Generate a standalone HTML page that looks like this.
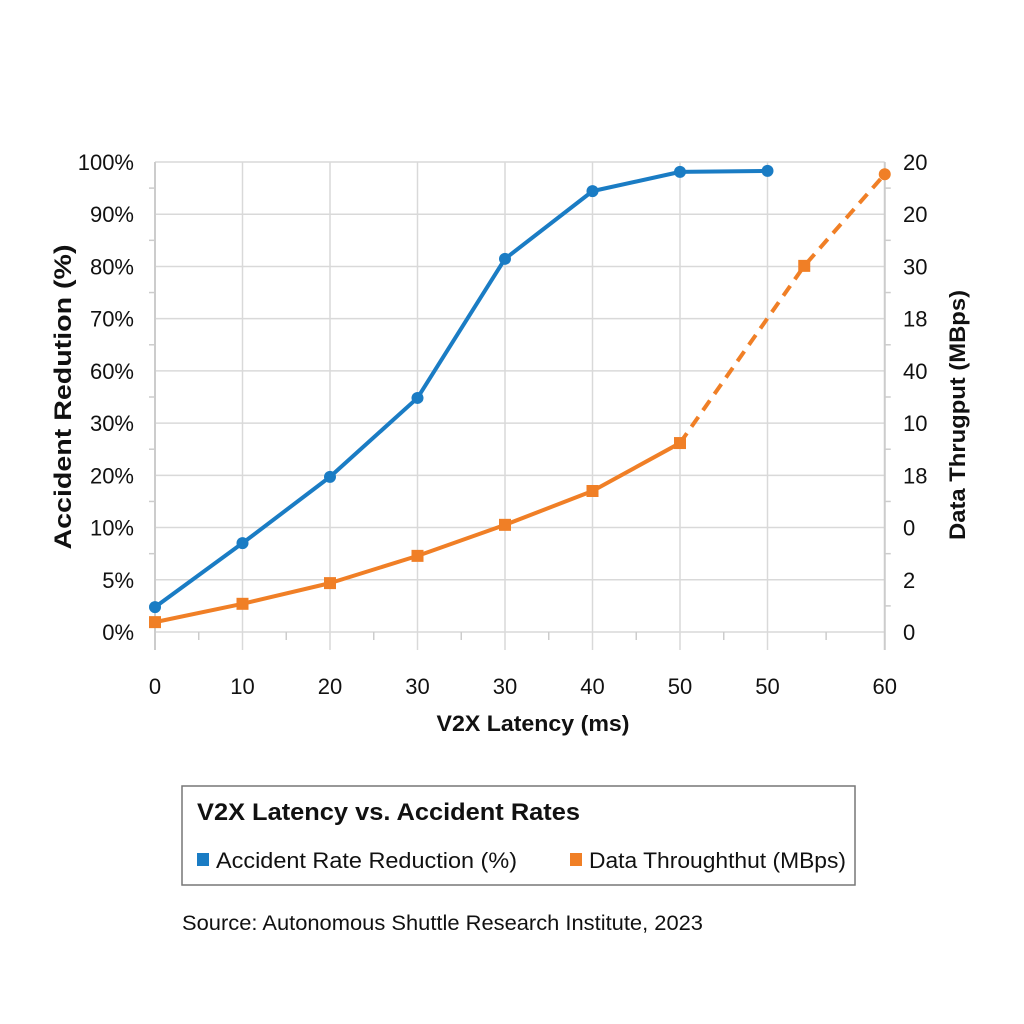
<!DOCTYPE html>
<html><head><meta charset="utf-8">
<style>
html,body{margin:0;padding:0;background:#fff;width:1024px;height:1024px;overflow:hidden}
svg{display:block;font-family:"Liberation Sans",sans-serif}
</style></head>
<body>
<svg id="chart" width="1024" height="1024" viewBox="0 0 1024 1024" xmlns="http://www.w3.org/2000/svg">
<rect x="0" y="0" width="1024" height="1024" fill="#fff"/>
<g id="grid"></g>
<g id="axes"></g>
<g id="series"></g>
<text x="533" y="731" font-size="22" font-weight="bold" text-anchor="middle" fill="#111" textLength="193" lengthAdjust="spacingAndGlyphs">V2X Latency (ms)</text>
<text transform="translate(71,397) rotate(-90)" font-size="24" font-weight="bold" text-anchor="middle" fill="#111" textLength="305" lengthAdjust="spacingAndGlyphs">Accident Redution (%)</text>
<text transform="translate(965,415) rotate(-90)" font-size="22" font-weight="bold" text-anchor="middle" fill="#111" textLength="250" lengthAdjust="spacingAndGlyphs">Data Thrugput (MBps)</text>
<g>
<rect x="182" y="786" width="673" height="99" fill="#fff" stroke="#777" stroke-width="1.5"/>
<text x="197" y="820" font-size="24" font-weight="bold" fill="#111" textLength="383" lengthAdjust="spacingAndGlyphs">V2X Latency vs. Accident Rates</text>
<rect x="197" y="853" width="12" height="13" fill="#1a7cc4"/>
<text x="216" y="868" font-size="22" fill="#111" textLength="301" lengthAdjust="spacingAndGlyphs">Accident Rate Reduction (%)</text>
<rect x="570" y="853" width="12" height="13" fill="#f07f26"/>
<text x="589" y="868" font-size="22" fill="#111" textLength="257" lengthAdjust="spacingAndGlyphs">Data Throughthut (MBps)</text>
</g>
<text x="182" y="930" font-size="21" fill="#111" textLength="521" lengthAdjust="spacingAndGlyphs">Source: Autonomous Shuttle Research Institute, 2023</text>
</svg>
<script>
const xTickPos = [0,1,2,3,4,5,6,7,8.34];
const xTickLabels = ["0","10","20","30","30","40","50","50","60"];
const yLeftLabels = ["0%","5%","10%","20%","30%","60%","70%","80%","90%","100%"];
const yRightLabels = ["0","2","0","18","10","40","18","30","20","20"];
const blueX = [0,1,2,3,4,5,6,7];
const blueY = [5.3,18.9,33,49.8,79.4,93.8,97.9,98.1];
const orangeX = [0,1,2,3,4,5,6,7.42,8.34];
const orangeY = [2.1,6,10.4,16.2,22.8,30,40.2,77.9,97.4];
const dashFrom = 6;

const NS="http://www.w3.org/2000/svg";
const X0=155, XS=87.5, Y0=632, Y1=162;
const sx=v=>X0+v*XS;
const sy=v=>Y0-(v/100)*(Y0-Y1);
const XR=sx(xTickPos[xTickPos.length-1]);
function mk(tag,attrs,parent){const e=document.createElementNS(NS,tag);for(const k in attrs)e.setAttribute(k,attrs[k]);parent.appendChild(e);return e;}
const grid=document.getElementById('grid'), axes=document.getElementById('axes'), series=document.getElementById('series');

for(let i=0;i<yLeftLabels.length;i++){
  const y=sy(i*100/(yLeftLabels.length-1));
  const l=mk('line',{x1:X0,x2:XR,y1:y,y2:y,stroke:'#d9d9d9','stroke-width':1.5},grid);
  
  
  const t=mk('text',{x:134,y:y+8,'font-size':22,'text-anchor':'end',fill:'#111'},axes);
  t.textContent=yLeftLabels[i];
  
  
  const r=mk('text',{x:903,y:y+8,'font-size':22,'text-anchor':'start',fill:'#111'},axes);
  r.textContent=yRightLabels[i];
  
  
  if(i<yLeftLabels.length-1){
    const ym=sy((i+0.5)*100/(yLeftLabels.length-1));
    const a=mk('line',{x1:X0-6,x2:X0,y1:ym,y2:ym,stroke:'#ccc','stroke-width':1.5},axes);
    
    
    const b=mk('line',{x1:XR,x2:XR+6,y1:ym,y2:ym,stroke:'#ccc','stroke-width':1.5},axes);
    
    
  }
}
for(let i=0;i<xTickPos.length;i++){
  const x=sx(xTickPos[i]);
  const l=mk('line',{x1:x,x2:x,y1:Y1,y2:Y0+18,stroke:'#d9d9d9','stroke-width':1.5},grid);
  
  
  const t=mk('text',{x:x,y:694,'font-size':22,'text-anchor':'middle',fill:'#111'},axes);
  t.textContent=xTickLabels[i];
  
  
  if(i<xTickPos.length-1){
    const xm=(x+sx(xTickPos[i+1]))/2;
    const m=mk('line',{x1:xm,x2:xm,y1:Y0,y2:Y0+8,stroke:'#ccc','stroke-width':1.5},axes);
    
    
  }
}
const bp=blueX.map((v,i)=>sx(v)+','+sy(blueY[i])).join(' ');
const bl=mk('polyline',{points:bp,fill:'none',stroke:'#1a7cc4','stroke-width':4,'stroke-linejoin':'round'},series);


blueX.forEach((v,i)=>{
  const c=mk('circle',{cx:sx(v),cy:sy(blueY[i]),r:6,fill:'#1a7cc4'},series);
  
  
});
const os=orangeX.slice(0,dashFrom+1).map((v,i)=>sx(v)+','+sy(orangeY[i])).join(' ');
const ol=mk('polyline',{points:os,fill:'none',stroke:'#f07f26','stroke-width':4,'stroke-linejoin':'round'},series);


const od=orangeX.slice(dashFrom).map((v,i)=>sx(v)+','+sy(orangeY[i+dashFrom])).join(' ');
const dl=mk('polyline',{points:od,fill:'none',stroke:'#f07f26','stroke-width':4,'stroke-dasharray':'12,8'},series);


orangeX.forEach((v,i)=>{
  let m;
  if(i===orangeX.length-1){ m=mk('circle',{cx:sx(v),cy:sy(orangeY[i]),r:6,fill:'#f07f26'},series); }
  else { m=mk('rect',{x:sx(v)-6,y:sy(orangeY[i])-6,width:12,height:12,fill:'#f07f26'},series); }
  
  
});
const la=mk('line',{x1:X0,x2:X0,y1:Y1,y2:Y0+18,stroke:'#ccc','stroke-width':2},axes);


const ra=mk('line',{x1:XR,x2:XR,y1:Y1,y2:Y0+18,stroke:'#ccc','stroke-width':2},axes);


</script>
</body></html>
